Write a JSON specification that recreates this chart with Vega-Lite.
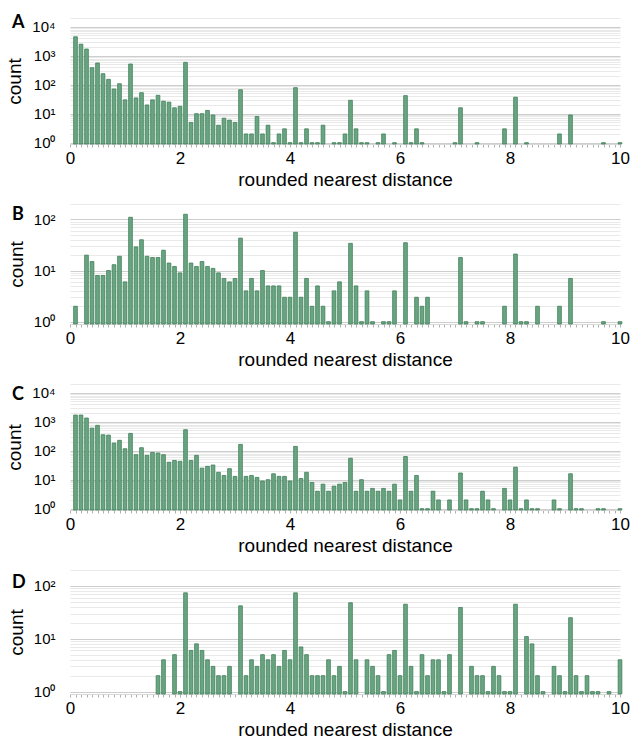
{
  "$schema": "https://vega.github.io/schema/vega-lite/v6.json",
  "padding": {"left": 5, "top": 11, "right": 0, "bottom": 0},
  "bounds": "flush",
  "spacing": 60,
  "config": {
    "view": {"stroke": null},
    "font": "Liberation Sans",
    "title": {"font": "Lato", "fontSize": 18, "fontWeight": "bold", "anchor": "start", "frame": "group", "orient": "top", "dx": -58, "baseline": "bottom", "color": "#000"},
    "axisX": {"labelFont": "Liberation Sans", "labelFontSize": 17, "labelColor": "#000", "titleFont": "Liberation Sans", "titleFontSize": 19, "titleFontWeight": "normal", "titleColor": "#000", "grid": false, "domainColor": "#d8d8d8", "tickColor": "#b0b0b0", "tickSize": 3, "labelPadding": 3, "titlePadding": 4, "labelOverlap": false, "labelFlush": false, "tickCount": 100},
    "axisY": {"labelFont": "Liberation Sans", "labelFontSize": 15, "labelColor": "#000", "titleFont": "Liberation Sans", "titleFontSize": 19, "titleFontWeight": "normal", "titleColor": "#000", "domain": false, "ticks": false, "labelPadding": 15, "titlePadding": 7, "labelOverlap": false, "gridWidth": 1}
  },
  "datasets": {
    "A": [{"d":0.1,"n":4500},{"d":0.2,"n":2500},{"d":0.3,"n":1700},{"d":0.4,"n":385},{"d":0.5,"n":560},{"d":0.6,"n":240},{"d":0.7,"n":153},{"d":0.8,"n":71},{"d":0.9,"n":108},{"d":1.0,"n":30},{"d":1.1,"n":517},{"d":1.2,"n":35},{"d":1.3,"n":53},{"d":1.4,"n":20},{"d":1.5,"n":30},{"d":1.6,"n":43},{"d":1.7,"n":27},{"d":1.8,"n":25},{"d":1.9,"n":16},{"d":2.0,"n":18},{"d":2.1,"n":590},{"d":2.2,"n":5},{"d":2.3,"n":10},{"d":2.4,"n":10},{"d":2.5,"n":13},{"d":2.6,"n":9},{"d":2.7,"n":4},{"d":2.8,"n":7},{"d":2.9,"n":6},{"d":3.0,"n":5},{"d":3.1,"n":67},{"d":3.2,"n":2},{"d":3.3,"n":2},{"d":3.4,"n":8},{"d":3.5,"n":2},{"d":3.6,"n":4},{"d":3.7,"n":1},{"d":3.8,"n":2},{"d":3.9,"n":3},{"d":4.0,"n":1},{"d":4.1,"n":79},{"d":4.2,"n":1},{"d":4.3,"n":3},{"d":4.4,"n":1},{"d":4.5,"n":1},{"d":4.6,"n":4},{"d":4.8,"n":1},{"d":4.9,"n":1},{"d":5.0,"n":2},{"d":5.1,"n":29},{"d":5.2,"n":3},{"d":5.3,"n":1},{"d":5.4,"n":1},{"d":5.6,"n":1},{"d":5.7,"n":2},{"d":5.9,"n":1},{"d":6.1,"n":42},{"d":6.2,"n":1},{"d":6.3,"n":3},{"d":6.4,"n":1},{"d":7.0,"n":1},{"d":7.1,"n":16},{"d":7.4,"n":1},{"d":7.9,"n":3},{"d":8.1,"n":37},{"d":8.3,"n":1},{"d":8.9,"n":2},{"d":9.1,"n":9},{"d":9.7,"n":1},{"d":10.0,"n":1}],
    "B": [{"d":0.1,"n":2},{"d":0.3,"n":20},{"d":0.4,"n":15},{"d":0.5,"n":8},{"d":0.6,"n":8},{"d":0.7,"n":10},{"d":0.8,"n":13},{"d":0.9,"n":19},{"d":1.0,"n":6},{"d":1.1,"n":110},{"d":1.2,"n":29},{"d":1.3,"n":40},{"d":1.4,"n":19},{"d":1.5,"n":18},{"d":1.6,"n":18},{"d":1.7,"n":25},{"d":1.8,"n":14},{"d":1.9,"n":12},{"d":2.0,"n":9},{"d":2.1,"n":126},{"d":2.2,"n":14},{"d":2.3,"n":12},{"d":2.4,"n":15},{"d":2.5,"n":12},{"d":2.6,"n":11},{"d":2.7,"n":9},{"d":2.8,"n":7},{"d":2.9,"n":6},{"d":3.0,"n":7},{"d":3.1,"n":43},{"d":3.2,"n":4},{"d":3.3,"n":7},{"d":3.4,"n":4},{"d":3.5,"n":10},{"d":3.6,"n":5},{"d":3.7,"n":5},{"d":3.8,"n":5},{"d":3.9,"n":3},{"d":4.0,"n":3},{"d":4.1,"n":56},{"d":4.2,"n":3},{"d":4.3,"n":7},{"d":4.4,"n":2},{"d":4.5,"n":5},{"d":4.6,"n":2},{"d":4.7,"n":1},{"d":4.8,"n":4},{"d":4.9,"n":6},{"d":5.1,"n":34},{"d":5.2,"n":5},{"d":5.3,"n":1},{"d":5.4,"n":4},{"d":5.5,"n":1},{"d":5.7,"n":1},{"d":5.8,"n":1},{"d":5.9,"n":4},{"d":6.1,"n":35},{"d":6.3,"n":3},{"d":6.4,"n":2},{"d":6.5,"n":3},{"d":7.1,"n":18},{"d":7.2,"n":1},{"d":7.4,"n":1},{"d":7.5,"n":1},{"d":7.9,"n":2},{"d":8.1,"n":21},{"d":8.2,"n":1},{"d":8.3,"n":1},{"d":8.5,"n":2},{"d":8.9,"n":2},{"d":9.1,"n":7},{"d":9.7,"n":1},{"d":10.0,"n":1}],
    "C": [{"d":0.1,"n":1700},{"d":0.2,"n":1700},{"d":0.3,"n":1340},{"d":0.4,"n":600},{"d":0.5,"n":750},{"d":0.6,"n":355},{"d":0.7,"n":345},{"d":0.8,"n":183},{"d":0.9,"n":228},{"d":1.0,"n":117},{"d":1.1,"n":395},{"d":1.2,"n":73},{"d":1.3,"n":127},{"d":1.4,"n":69},{"d":1.5,"n":87},{"d":1.6,"n":83},{"d":1.7,"n":73},{"d":1.8,"n":40},{"d":1.9,"n":46},{"d":2.0,"n":43},{"d":2.1,"n":530},{"d":2.2,"n":46},{"d":2.3,"n":69},{"d":2.4,"n":25},{"d":2.5,"n":29},{"d":2.6,"n":32},{"d":2.7,"n":18},{"d":2.8,"n":14},{"d":2.9,"n":24},{"d":3.0,"n":13},{"d":3.1,"n":165},{"d":3.2,"n":13},{"d":3.3,"n":14},{"d":3.4,"n":12},{"d":3.5,"n":9},{"d":3.6,"n":10},{"d":3.7,"n":16},{"d":3.8,"n":13},{"d":3.9,"n":13},{"d":4.0,"n":9},{"d":4.1,"n":141},{"d":4.2,"n":11},{"d":4.3,"n":18},{"d":4.4,"n":8},{"d":4.5,"n":4},{"d":4.6,"n":7},{"d":4.7,"n":4},{"d":4.8,"n":6},{"d":4.9,"n":7},{"d":5.0,"n":8},{"d":5.1,"n":55},{"d":5.2,"n":4},{"d":5.3,"n":10},{"d":5.4,"n":4},{"d":5.5,"n":5},{"d":5.6,"n":4},{"d":5.7,"n":5},{"d":5.8,"n":4},{"d":5.9,"n":7},{"d":6.0,"n":2},{"d":6.1,"n":63},{"d":6.2,"n":4},{"d":6.3,"n":14},{"d":6.4,"n":1},{"d":6.5,"n":1},{"d":6.6,"n":4},{"d":6.7,"n":2},{"d":6.9,"n":2},{"d":7.1,"n":17},{"d":7.2,"n":2},{"d":7.3,"n":1},{"d":7.4,"n":1},{"d":7.5,"n":4},{"d":7.6,"n":2},{"d":7.7,"n":1},{"d":7.9,"n":5},{"d":8.0,"n":2},{"d":8.1,"n":27},{"d":8.2,"n":1},{"d":8.3,"n":2},{"d":8.4,"n":1},{"d":8.5,"n":1},{"d":8.8,"n":2},{"d":8.9,"n":1},{"d":9.1,"n":16},{"d":9.2,"n":1},{"d":9.3,"n":1},{"d":9.6,"n":1},{"d":9.7,"n":1},{"d":10.0,"n":1}],
    "D": [{"d":1.6,"n":2},{"d":1.7,"n":4},{"d":1.9,"n":5},{"d":2.0,"n":1},{"d":2.1,"n":74},{"d":2.2,"n":6},{"d":2.3,"n":8},{"d":2.4,"n":6},{"d":2.5,"n":4},{"d":2.6,"n":3},{"d":2.7,"n":2},{"d":2.8,"n":2},{"d":2.9,"n":3},{"d":3.1,"n":42},{"d":3.2,"n":2},{"d":3.3,"n":4},{"d":3.4,"n":3},{"d":3.5,"n":5},{"d":3.6,"n":4},{"d":3.7,"n":5},{"d":3.8,"n":3},{"d":3.9,"n":6},{"d":4.0,"n":4},{"d":4.1,"n":74},{"d":4.2,"n":7},{"d":4.3,"n":5},{"d":4.4,"n":2},{"d":4.5,"n":2},{"d":4.6,"n":2},{"d":4.7,"n":4},{"d":4.8,"n":2},{"d":4.9,"n":3},{"d":5.0,"n":1},{"d":5.1,"n":48},{"d":5.2,"n":4},{"d":5.4,"n":4},{"d":5.5,"n":3},{"d":5.6,"n":2},{"d":5.7,"n":1},{"d":5.8,"n":5},{"d":5.9,"n":6},{"d":6.0,"n":2},{"d":6.1,"n":45},{"d":6.2,"n":3},{"d":6.3,"n":1},{"d":6.4,"n":5},{"d":6.5,"n":2},{"d":6.6,"n":4},{"d":6.7,"n":4},{"d":6.8,"n":1},{"d":6.9,"n":5},{"d":7.1,"n":39},{"d":7.3,"n":3},{"d":7.4,"n":2},{"d":7.5,"n":2},{"d":7.6,"n":1},{"d":7.7,"n":3},{"d":7.8,"n":2},{"d":7.9,"n":1},{"d":8.0,"n":1},{"d":8.1,"n":45},{"d":8.3,"n":11},{"d":8.4,"n":8},{"d":8.5,"n":2},{"d":8.6,"n":1},{"d":8.8,"n":3},{"d":8.9,"n":2},{"d":9.0,"n":1},{"d":9.1,"n":25},{"d":9.2,"n":2},{"d":9.3,"n":1},{"d":9.4,"n":2},{"d":9.5,"n":1},{"d":9.6,"n":1},{"d":9.8,"n":1},{"d":10.0,"n":4}]
  },
  "vconcat": [
    {
      "data": {"name": "A"},
      "width": 550, "height": 126,
      "title": {"text": "A", "offset": -21},
      "mark": {"type": "bar", "width": 3.7, "fill": "#6aa582", "stroke": "#3f7f58", "strokeWidth": 0.8},
      "encoding": {
        "x": {"field": "d", "type": "quantitative", "scale": {"domain": [0, 10], "nice": false, "padding": 0}, "title": "rounded nearest distance",
              "axis": {"labelExpr": "datum.value % 2 === 0 ? format(datum.value, 'd') : ''"}},
        "y": {"field": "n", "type": "quantitative", "scale": {"type": "log", "domain": [0.9, 20000], "nice": false}, "title": "count",
              "axis": {"values": [1,2,3,4,5,6,7,8,9,10,20,30,40,50,60,70,80,90,100,200,300,400,500,600,700,800,900,1000,2000,3000,4000,5000,6000,7000,8000,9000,10000,20000],
                       "labelExpr": "datum.value === 1 ? '10⁰' : datum.value === 10 ? '10¹' : datum.value === 100 ? '10²' : datum.value === 1000 ? '10³' : datum.value === 10000 ? '10⁴' : ''",
                       "gridColor": {"condition": {"test": "indexof([1,10,100,1000,10000], datum.value) >= 0", "value": "#cdcdcd"}, "value": "#e9e9e9"}}},
        "y2": {"datum": 0.9}
      }
    },
    {
      "data": {"name": "B"},
      "width": 550, "height": 120,
      "title": {"text": "B", "offset": -27},
      "mark": {"type": "bar", "width": 3.7, "fill": "#6aa582", "stroke": "#3f7f58", "strokeWidth": 0.8},
      "encoding": {
        "x": {"field": "d", "type": "quantitative", "scale": {"domain": [0, 10], "nice": false, "padding": 0}, "title": "rounded nearest distance",
              "axis": {"labelExpr": "datum.value % 2 === 0 ? format(datum.value, 'd') : ''"}},
        "y": {"field": "n", "type": "quantitative", "scale": {"type": "log", "domain": [0.9, 200], "nice": false}, "title": "count",
              "axis": {"values": [1,2,3,4,5,6,7,8,9,10,20,30,40,50,60,70,80,90,100,200],
                       "labelExpr": "datum.value === 1 ? '10⁰' : datum.value === 10 ? '10¹' : datum.value === 100 ? '10²' : ''",
                       "gridColor": {"condition": {"test": "indexof([1,10,100,1000,10000], datum.value) >= 0", "value": "#cdcdcd"}, "value": "#e9e9e9"}}},
        "y2": {"datum": 0.9}
      }
    },
    {
      "data": {"name": "C"},
      "width": 550, "height": 126,
      "title": {"text": "C", "offset": -27},
      "mark": {"type": "bar", "width": 3.7, "fill": "#6aa582", "stroke": "#3f7f58", "strokeWidth": 0.8},
      "encoding": {
        "x": {"field": "d", "type": "quantitative", "scale": {"domain": [0, 10], "nice": false, "padding": 0}, "title": "rounded nearest distance",
              "axis": {"labelExpr": "datum.value % 2 === 0 ? format(datum.value, 'd') : ''"}},
        "y": {"field": "n", "type": "quantitative", "scale": {"type": "log", "domain": [0.9, 20000], "nice": false}, "title": "count",
              "axis": {"values": [1,2,3,4,5,6,7,8,9,10,20,30,40,50,60,70,80,90,100,200,300,400,500,600,700,800,900,1000,2000,3000,4000,5000,6000,7000,8000,9000,10000,20000],
                       "labelExpr": "datum.value === 1 ? '10⁰' : datum.value === 10 ? '10¹' : datum.value === 100 ? '10²' : datum.value === 1000 ? '10³' : datum.value === 10000 ? '10⁴' : ''",
                       "gridColor": {"condition": {"test": "indexof([1,10,100,1000,10000], datum.value) >= 0", "value": "#cdcdcd"}, "value": "#e9e9e9"}}},
        "y2": {"datum": 0.9}
      }
    },
    {
      "data": {"name": "D"},
      "width": 550, "height": 124,
      "title": {"text": "D", "offset": -29},
      "mark": {"type": "bar", "width": 3.7, "fill": "#6aa582", "stroke": "#3f7f58", "strokeWidth": 0.8},
      "encoding": {
        "x": {"field": "d", "type": "quantitative", "scale": {"domain": [0, 10], "nice": false, "padding": 0}, "title": "rounded nearest distance",
              "axis": {"labelExpr": "datum.value % 2 === 0 ? format(datum.value, 'd') : ''"}},
        "y": {"field": "n", "type": "quantitative", "scale": {"type": "log", "domain": [0.9, 200], "nice": false}, "title": "count",
              "axis": {"values": [1,2,3,4,5,6,7,8,9,10,20,30,40,50,60,70,80,90,100,200],
                       "labelExpr": "datum.value === 1 ? '10⁰' : datum.value === 10 ? '10¹' : datum.value === 100 ? '10²' : ''",
                       "gridColor": {"condition": {"test": "indexof([1,10,100,1000,10000], datum.value) >= 0", "value": "#cdcdcd"}, "value": "#e9e9e9"}}},
        "y2": {"datum": 0.9}
      }
    }
  ]
}
